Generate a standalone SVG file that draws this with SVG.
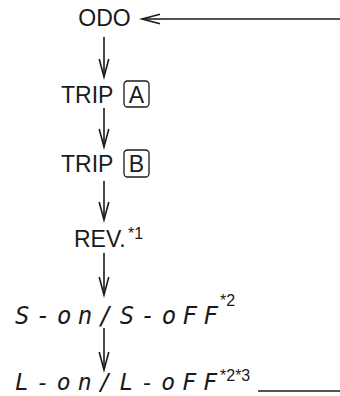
<svg xmlns="http://www.w3.org/2000/svg" width="340" height="396" viewBox="0 0 340 396">
  <style>
    .t { font-family: "Liberation Sans", Arial, sans-serif; font-size: 23px; fill: #1a1a1a; }
    .sup { font-family: "Liberation Sans", Arial, sans-serif; font-size: 16px; fill: #1a1a1a; }
    .seg { font-family: "DejaVu Sans Mono", monospace; font-size: 24px; font-style: oblique; fill: #1a1a1a; }
    .box { fill: none; stroke: #1a1a1a; stroke-width: 1.3; }
    .c { stroke: #1a1a1a; stroke-width: 1.6; fill: none; }
  </style>
  <defs>
    <marker id="ah" markerUnits="userSpaceOnUse" orient="auto" markerWidth="24" markerHeight="14" refX="0" refY="0" viewBox="-20 -7 24 14" overflow="visible">
      <path d="M-18,-4.8 L0,0 L-18,4.8" fill="none" stroke="#1a1a1a" stroke-width="1.6"/>
    </marker>
  </defs>
  <rect width="340" height="396" fill="#ffffff"/>
  <g id="connectors">
    <line class="c" x1="340" y1="19" x2="142" y2="19" marker-end="url(#ah)"/>
    <line class="c" x1="104" y1="37" x2="104" y2="77" marker-end="url(#ah)"/>
    <line class="c" x1="104" y1="108" x2="104" y2="147" marker-end="url(#ah)"/>
    <line class="c" x1="104" y1="181" x2="104" y2="220" marker-end="url(#ah)"/>
    <line class="c" x1="104" y1="253" x2="104" y2="295" marker-end="url(#ah)"/>
    <line class="c" x1="104" y1="328" x2="104" y2="370" marker-end="url(#ah)"/>
    <line class="c" x1="258" y1="391" x2="340" y2="391"/>
  </g>
  <g id="odo">
    <text class="t" x="104.5" y="26" text-anchor="middle">ODO</text>
  </g>
  <g id="tripA">
    <text class="t" x="61" y="103">TRIP</text>
    <rect class="box" x="124" y="81" width="25" height="26" rx="3.5"/>
    <text class="t" x="136.5" y="103" text-anchor="middle">A</text>
  </g>
  <g id="tripB">
    <text class="t" x="61" y="172">TRIP</text>
    <rect class="box" x="124" y="150" width="25" height="27" rx="3.5"/>
    <text class="t" x="136.5" y="172" text-anchor="middle">B</text>
  </g>
  <g id="rev">
    <text class="t" x="74" y="247">REV.</text>
    <text class="sup" x="128" y="239">*1</text>
  </g>
  <g id="son">
    <text class="seg" x="15" y="324" textLength="203" lengthAdjust="spacing">S-on/S-oFF</text>
    <text class="sup" x="220" y="306">*2</text>
  </g>
  <g id="lon">
    <text class="seg" x="15" y="390" textLength="202" lengthAdjust="spacing" style="font-size:23px">L-on/L-oFF</text>
    <text class="sup" x="220" y="381">*2*3</text>
  </g>
</svg>
